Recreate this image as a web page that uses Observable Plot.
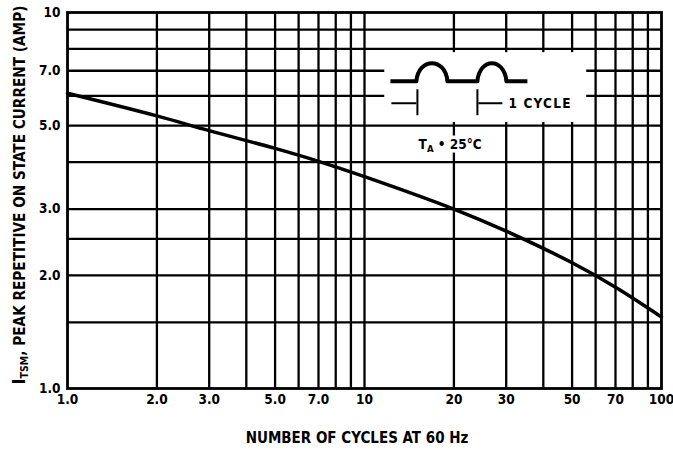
<!DOCTYPE html>
<html><head><meta charset="utf-8">
<script src="https://cdn.jsdelivr.net/npm/d3@7"></script>
<script src="https://cdn.jsdelivr.net/npm/@observablehq/plot@0.6"></script>
<style>body{margin:0;background:#fff}</style>
</head><body><div id="chart"></div>
<script>
const cycles  = [1, 2, 3, 5, 7, 10, 20, 30, 50, 70, 100];
const current = [6.1, 5.31, 4.85, 4.35, 4.02, 3.66, 3.0, 2.62, 2.16, 1.86, 1.55];
const xGrid = [2, 3, 4, 5, 6, 7, 8, 9, 10, 20, 30, 40, 50, 60, 70, 80, 90];
const yGrid = [1.5, 2, 2.5, 3, 4, 5, 6, 7, 8, 9];
const xTicks = [1, 2, 3, 5, 7, 10, 20, 30, 50, 70, 100];
const xTickLabels = ["1.0", "2.0", "3.0", "5.0", "7.0", "10", "20", "30", "50", "70", "100"];
const yTicks = [1, 2, 3, 5, 7, 10];
const yTickLabels = ["1.0", "2.0", "3.0", "5.0", "7.0", "10"];
const xTitle = "NUMBER OF CYCLES AT 60 Hz";
const yTitleMain = "I";
const yTitleSub = "TSM";
const yTitleRest = ", PEAK REPETITIVE ON STATE CURRENT (AMP)";
const insetBox = [{x1: 11.7, x2: 56, y1: 5.1, y2: 7.82}];
const insetCycleLabel = "1 CYCLE";
const insetTemp = {x: 19.5, y: 4.32, label: "25°C"};

const FONT = "'Liberation Sans Narrow', 'DejaVu Sans Condensed', 'Roboto Condensed', sans-serif";
const data = cycles.map((c, i) => ({c, a: current[i]}));

function insetMark(index, scales) {
  const g = d3.create("svg:g");
  const ox = scales.x(20), oy = scales.y(7);  // anchor of waveform drawing
  const p = (dx, dy) => `${ox + dx},${oy + dy}`;
  g.append("path")
    .attr("d", `M${p(-63, 11)} L${p(-37, 11)} C${p(-35, -13)} ${p(-8, -13)} ${p(-6, 11)} L${p(24, 11)} C${p(26, -13)} ${p(51, -13)} ${p(53, 11)} L${p(74, 11)}`)
    .attr("fill", "none").attr("stroke", "black").attr("stroke-width", 4)
    .attr("stroke-linejoin", "round");
  const dims = g.append("g").attr("stroke", "black").attr("stroke-width", 2);
  dims.append("line").attr("x1", ox - 36).attr("x2", ox - 36).attr("y1", oy + 19).attr("y2", oy + 45);
  dims.append("line").attr("x1", ox - 62).attr("x2", ox - 37).attr("y1", oy + 33).attr("y2", oy + 33);
  dims.append("line").attr("x1", ox + 24).attr("x2", ox + 24).attr("y1", oy + 19).attr("y2", oy + 45);
  dims.append("line").attr("x1", ox + 25).attr("x2", ox + 49).attr("y1", oy + 33).attr("y2", oy + 33);
  g.append("text").attr("x", ox + 55).attr("y", oy + 38).attr("text-anchor", "start")
    .attr("font-family", FONT).attr("font-weight", "bold").attr("font-size", 13.5)
    .attr("letter-spacing", 1.2)
    .text(insetCycleLabel);
  const tx = scales.x(insetTemp.x), ty = scales.y(insetTemp.y);
  const t = g.append("text").attr("x", tx).attr("y", ty).attr("text-anchor", "middle")
    .attr("font-family", FONT).attr("font-weight", "bold").attr("font-size", 13.5)
    .attr("paint-order", "stroke").attr("stroke", "white").attr("stroke-width", 7)
    .attr("stroke-linejoin", "round");
  t.append("tspan").text("T");
  t.append("tspan").attr("font-size", 9.5).attr("dy", 3).text("A");
  t.append("tspan").attr("dy", -3).text(" \u2022 " + insetTemp.label);
  return g.node();
}

function titlesMark(index, scales, values, dims) {
  const g = d3.create("svg:g").attr("font-family", FONT).attr("font-weight", "bold");
  const cx = (dims.marginLeft + dims.width - dims.marginRight) / 2 - 7;
  g.append("text").attr("x", cx).attr("y", dims.height - 12)
    .attr("text-anchor", "middle").attr("font-size", 15).text(xTitle);
  const yc = 195;
  const t = g.append("text").attr("transform", `translate(25,${yc}) rotate(-90)`)
    .attr("text-anchor", "middle").attr("font-size", 15.2);
  t.append("tspan").attr("font-size", 18).text(yTitleMain);
  t.append("tspan").attr("font-size", 10.5).attr("dy", 3).text(yTitleSub);
  t.append("tspan").attr("dy", -3).text(yTitleRest);
  return g.node();
}

const chart = Plot.plot({
  width: 673,
  height: 455,
  marginLeft: 67,
  marginRight: 12,
  marginTop: 12,
  marginBottom: 67,
  x: {type: "log", domain: [1, 100], axis: null},
  y: {type: "log", domain: [1, 10], axis: null},
  style: {background: "white", fontFamily: FONT},
  marks: [
    Plot.ruleX(xGrid, {stroke: "black", strokeWidth: 2.3}),
    Plot.ruleY(yGrid, {stroke: "black", strokeWidth: 2.3}),
    Plot.rect(insetBox, {x1: "x1", x2: "x2", y1: "y1", y2: "y2", fill: "white"}),
    Plot.frame({stroke: "black", strokeWidth: 2.8}),
    Plot.line(data, {x: "c", y: "a", stroke: "black", strokeWidth: 3.5, curve: "catmull-rom"}),
    Plot.text(xTicks, {x: d => d, text: (d, i) => xTickLabels[i], frameAnchor: "bottom", lineAnchor: "top", dy: 6,
      fontSize: 13.5, fontWeight: "bold", fill: "black"}),
    Plot.text(yTicks, {y: d => d, text: (d, i) => yTickLabels[i], frameAnchor: "left", textAnchor: "end", dx: -7,
      fontSize: 13.5, fontWeight: "bold", fill: "black"}),
    insetMark,
    titlesMark
  ]
});
document.getElementById("chart").append(chart);
</script>
</body></html>
